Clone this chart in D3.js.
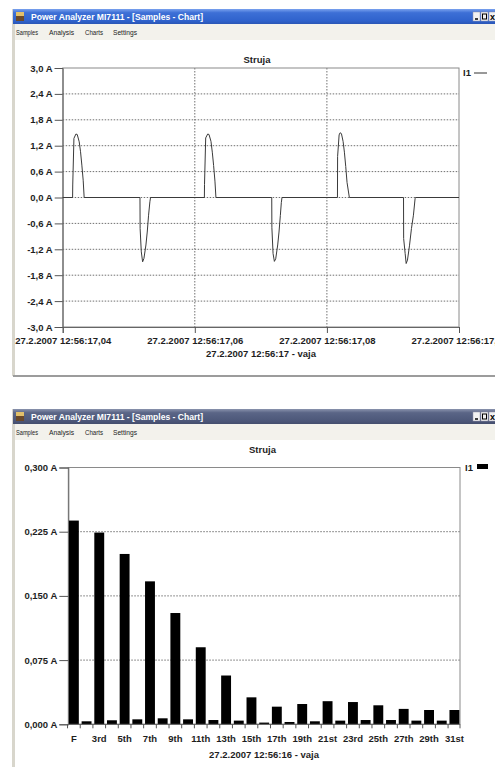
<!DOCTYPE html>
<html><head><meta charset="utf-8">
<script src="https://cdn.jsdelivr.net/npm/d3@7"></script>
<style>html,body{margin:0;padding:0;background:#fff;overflow:hidden}</style>
</head><body><svg id="c" width="495" height="767"></svg>
<script>
// ---------- data ----------
const windowTitle = "Power Analyzer  MI7111 - [Samples - Chart]";
const menuItems = ["Samples", "Analysis", "Charts", "Settings"];
const chartTitle = "Struja";
const seriesName = "I1";

// waveform chart (time in ms after 12:56:17,000)
const waveTimeMs = [40, 41.5, 41.52, 41.7, 42.0, 42.2, 42.5, 42.7, 42.9, 43.1, 43.25,
  51.7, 51.72, 51.9, 52.1, 52.3, 52.6, 52.8, 53.0, 53.2, 53.3,
  61.45, 61.47, 61.65, 61.95, 62.15, 62.45, 62.65, 62.85, 63.05, 63.2,
  71.65, 71.67, 71.85, 72.05, 72.25, 72.55, 72.75, 72.95, 73.1, 73.2,
  81.6, 81.62, 81.85, 82.0, 82.2, 82.45, 82.65, 82.85, 83.05, 83.4,
  91.6, 91.62, 91.85, 92.0, 92.2, 92.5, 92.8, 93.1, 93.35, 93.4, 100];
const waveAmps = [0, 0, 0.29, 1.37, 1.47, 1.46, 1.29, 1.06, 0.75, 0.40, 0,
  0, -0.72, -1.26, -1.49, -1.41, -1.10, -0.80, -0.41, -0.10, 0,
  0, 0.30, 1.38, 1.47, 1.46, 1.30, 1.05, 0.74, 0.38, 0,
  0, -0.70, -1.30, -1.48, -1.42, -1.10, -0.80, -0.42, -0.12, 0,
  0, 0.95, 1.45, 1.50, 1.48, 1.30, 1.05, 0.72, 0.35, 0,
  0, -0.95, -1.30, -1.53, -1.45, -1.12, -0.72, -0.41, -0.03, 0, 0];
const waveYTicks = [-3, -2.4, -1.8, -1.2, -0.6, 0, 0.6, 1.2, 1.8, 2.4, 3];
const waveXTicksMs = [40, 60, 80, 100];
const waveXTickLabels = ["27.2.2007 12:56:17,04", "27.2.2007 12:56:17,06", "27.2.2007 12:56:17,08", "27.2.2007 12:56:17,10"];
const waveSubtitle = "27.2.2007 12:56:17 - vaja";

// harmonics chart
const harmonicLabels = ["F", "2nd", "3rd", "4th", "5th", "6th", "7th", "8th", "9th", "10th",
  "11th", "12th", "13th", "14th", "15th", "16th", "17th", "18th", "19th", "20th",
  "21st", "22nd", "23rd", "24th", "25th", "26th", "27th", "28th", "29th", "30th", "31st"];
const harmonicAmps = [0.238, 0.0035, 0.224, 0.0047, 0.199, 0.0058, 0.167, 0.007, 0.130, 0.0058,
  0.090, 0.005, 0.057, 0.0043, 0.0315, 0.002, 0.0206, 0.0027, 0.0237, 0.0035,
  0.027, 0.0043, 0.026, 0.005, 0.0222, 0.005, 0.018, 0.0043, 0.0167, 0.0043, 0.0167];
const harmYTicks = [0, 0.075, 0.15, 0.225, 0.3];
const harmSubtitle = "27.2.2007 12:56:16 - vaja";

// ---------- drawing ----------
const svg = d3.select("#c");
const FONT = "'Liberation Sans', Arial, sans-serif";
const defs = svg.append("defs");
function grad(id, stops) {
  const g = defs.append("linearGradient").attr("id", id).attr("x1", 0).attr("y1", 0).attr("x2", 0).attr("y2", 1);
  stops.forEach(s => g.append("stop").attr("offset", s[0]).attr("stop-color", s[1]));
}
grad("tb1", [[0, "#7aa2ee"], [0.25, "#3d6fd6"], [0.8, "#2f62cc"], [1, "#2a56b5"]]);
grad("tb2", [[0, "#8a93ad"], [0.25, "#5a6586"], [0.8, "#4c5779"], [1, "#444e6d"]]);

function drawWindow(y0, yEnd, gradId) {
  const g = svg.append("g");
  g.append("rect").attr("x", 12).attr("y", y0).attr("width", 3).attr("height", yEnd - y0).attr("fill", "#d8d6cc");
  g.append("rect").attr("x", 13).attr("y", y0).attr("width", 482).attr("height", 15).attr("fill", `url(#${gradId})`);
  g.append("rect").attr("x", 16).attr("y", y0 + 3).attr("width", 8).attr("height", 4).attr("fill", "#e2c06a");
  g.append("rect").attr("x", 16).attr("y", y0 + 7).attr("width", 8).attr("height", 5).attr("fill", "#6b4a2a");
  g.append("text").attr("x", 31).attr("y", y0 + 11).attr("fill", "#fff").attr("font-family", FONT)
    .attr("font-weight", "bold").attr("font-size", 9).attr("textLength", 172).attr("lengthAdjust", "spacingAndGlyphs")
    .text(windowTitle);
  [473, 481, 489].forEach(bx => {
    g.append("rect").attr("x", bx).attr("y", y0 + 3).attr("width", 7).attr("height", 9)
      .attr("fill", "#f2f2f2").attr("stroke", "#99a").attr("stroke-width", 0.5);
  });
  g.append("line").attr("x1", 475).attr("x2", 478).attr("y1", y0 + 10).attr("y2", y0 + 10).attr("stroke", "#000").attr("stroke-width", 1.5);
  g.append("rect").attr("x", 482.5).attr("y", y0 + 5).attr("width", 4).attr("height", 5).attr("fill", "none").attr("stroke", "#000").attr("stroke-width", 1);
  g.append("text").attr("x", 490).attr("y", y0 + 11).attr("font-family", FONT).attr("font-weight", "bold").attr("font-size", 9).text("x");
  g.append("rect").attr("x", 15).attr("y", y0 + 15).attr("width", 480).attr("height", 16).attr("fill", "#f3f2ec");
  const mx = [16, 49, 85, 113];
  const mw = [22, 25, 18, 24];
  menuItems.forEach((m, i) => {
    g.append("text").attr("x", mx[i]).attr("y", y0 + 26).attr("font-family", FONT).attr("font-size", 6.8)
      .attr("textLength", mw[i]).attr("lengthAdjust", "spacingAndGlyphs")
      .attr("fill", "#222").text(m);
  });
  g.append("line").attr("x1", 13).attr("x2", 495).attr("y1", yEnd).attr("y2", yEnd).attr("stroke", "#9c9c9c").attr("stroke-width", 2);
}
drawWindow(9, 376, "tb1");
drawWindow(409, 800, "tb2");

const labelStyle = sel => sel.attr("font-family", FONT).attr("font-weight", "bold").attr("font-size", 9.5).attr("fill", "#1e1e1e");

// ---------- waveform chart ----------
(function () {
  const L = 62.7, R = 459, T = 68, B = 327;
  const x = d3.scaleLinear().domain([40, 100]).range([L, R]);
  const y = d3.scaleLinear().domain([-3, 3]).range([B, T]);
  const g = svg.append("g");
  g.selectAll("line.hg").data(waveYTicks.filter(d => d > -3 && d < 3)).join("line")
    .attr("x1", L).attr("x2", R).attr("y1", d => y(d)).attr("y2", d => y(d))
    .attr("stroke", "#707070").attr("stroke-width", 1).attr("stroke-dasharray", "1.5,1.5");
  g.selectAll("line.vg").data(waveXTicksMs.filter(d => d > 40 && d < 100)).join("line")
    .attr("x1", d => x(d)).attr("x2", d => x(d)).attr("y1", T).attr("y2", B)
    .attr("stroke", "#707070").attr("stroke-width", 1).attr("stroke-dasharray", "1.5,1.5");
  g.append("rect").attr("x", L).attr("y", T).attr("width", R - L).attr("height", B - T)
    .attr("fill", "none").attr("stroke", "#8a8a8a").attr("stroke-width", 1);
  const fmt = d => (d < 0 ? "-" : "") + Math.abs(d).toFixed(1).replace(".", ",") + " A";
  const ya = g.append("g").attr("transform", `translate(${L},0)`)
    .call(d3.axisLeft(y).tickValues(waveYTicks).tickSize(8).tickPadding(2).tickFormat(fmt));
  const xa = g.append("g").attr("transform", `translate(0,${B})`)
    .call(d3.axisBottom(x).tickValues(waveXTicksMs).tickSize(6).tickPadding(4).tickFormat((d, i) => waveXTickLabels[i]));
  [ya, xa].forEach(a => {
    a.select(".domain").attr("stroke", "#666");
    a.selectAll(".tick line").attr("stroke", "#555");
    a.selectAll("text").call(labelStyle);
  });
  const pts = waveTimeMs.map((t, i) => [t, waveAmps[i]]);
  g.append("path").datum(pts).attr("fill", "none").attr("stroke", "#3a3a3a").attr("stroke-width", 1)
    .attr("d", d3.line().x(d => x(d[0])).y(d => y(d[1])));
  g.append("text").attr("x", 257).attr("y", 62.5).attr("text-anchor", "middle").call(labelStyle).text(chartTitle);
  g.append("text").attr("x", 463).attr("y", 76).call(labelStyle).text(seriesName);
  g.append("line").attr("x1", 474).attr("x2", 487).attr("y1", 73).attr("y2", 73).attr("stroke", "#333");
  g.append("text").attr("x", 261).attr("y", 356.5).attr("text-anchor", "middle").call(labelStyle).text(waveSubtitle);
})();

// ---------- harmonics chart ----------
(function () {
  const L = 68.3, R = 460, T = 467.5, B = 724.3;
  const x = d3.scaleBand().domain(harmonicLabels).range([L, R]).paddingInner(0.22).paddingOuter(0.05);
  const y = d3.scaleLinear().domain([0, 0.3]).range([B, T]);
  const g = svg.append("g");
  g.selectAll("line.hg").data(harmYTicks.filter(d => d > 0 && d < 0.3)).join("line")
    .attr("x1", L).attr("x2", R).attr("y1", d => y(d)).attr("y2", d => y(d))
    .attr("stroke", "#707070").attr("stroke-width", 1).attr("stroke-dasharray", "1.5,1.5");
  g.append("rect").attr("x", L).attr("y", T).attr("width", R - L).attr("height", B - T)
    .attr("fill", "none").attr("stroke", "#8a8a8a").attr("stroke-width", 1);
  const fmt = d => d.toFixed(3).replace(".", ",") + " A";
  const ya = g.append("g").attr("transform", `translate(${L},0)`)
    .call(d3.axisLeft(y).tickValues(harmYTicks).tickSize(9).tickPadding(2).tickFormat(fmt));
  ya.select(".domain").attr("stroke", "#666");
  ya.selectAll(".tick line").attr("stroke", "#555");
  ya.selectAll("text").call(labelStyle);
  g.selectAll("rect.bar").data(harmonicLabels).join("rect")
    .attr("x", d => x(d)).attr("width", x.bandwidth())
    .attr("y", (d, i) => y(harmonicAmps[i])).attr("height", (d, i) => B - y(harmonicAmps[i]))
    .attr("fill", "#000");
  g.append("line").attr("x1", L).attr("x2", R).attr("y1", B).attr("y2", B).attr("stroke", "#666");
  const step = x.step();
  const bounds = harmonicLabels.map(d => x(d) - step * x.paddingInner() / 2).concat([R]);
  g.selectAll("line.xt").data(bounds).join("line")
    .attr("x1", d => d).attr("x2", d => d).attr("y1", B).attr("y2", B + 4).attr("stroke", "#555");
  g.selectAll("text.xl").data(harmonicLabels.filter((d, i) => i % 2 === 0)).join("text")
    .attr("x", d => x(d) + x.bandwidth() / 2).attr("y", 741.5).attr("text-anchor", "middle")
    .call(labelStyle).text(d => d);
  g.append("text").attr("x", 264).attr("y", 757.5).attr("text-anchor", "middle").call(labelStyle).text(harmSubtitle);
  g.append("text").attr("x", 262.5).attr("y", 452.5).attr("text-anchor", "middle").call(labelStyle).text(chartTitle);
  g.append("text").attr("x", 465).attr("y", 470.5).call(labelStyle).text(seriesName);
  g.append("rect").attr("x", 477).attr("y", 464).attr("width", 11).attr("height", 5).attr("fill", "#000");
})();
</script></body></html>
